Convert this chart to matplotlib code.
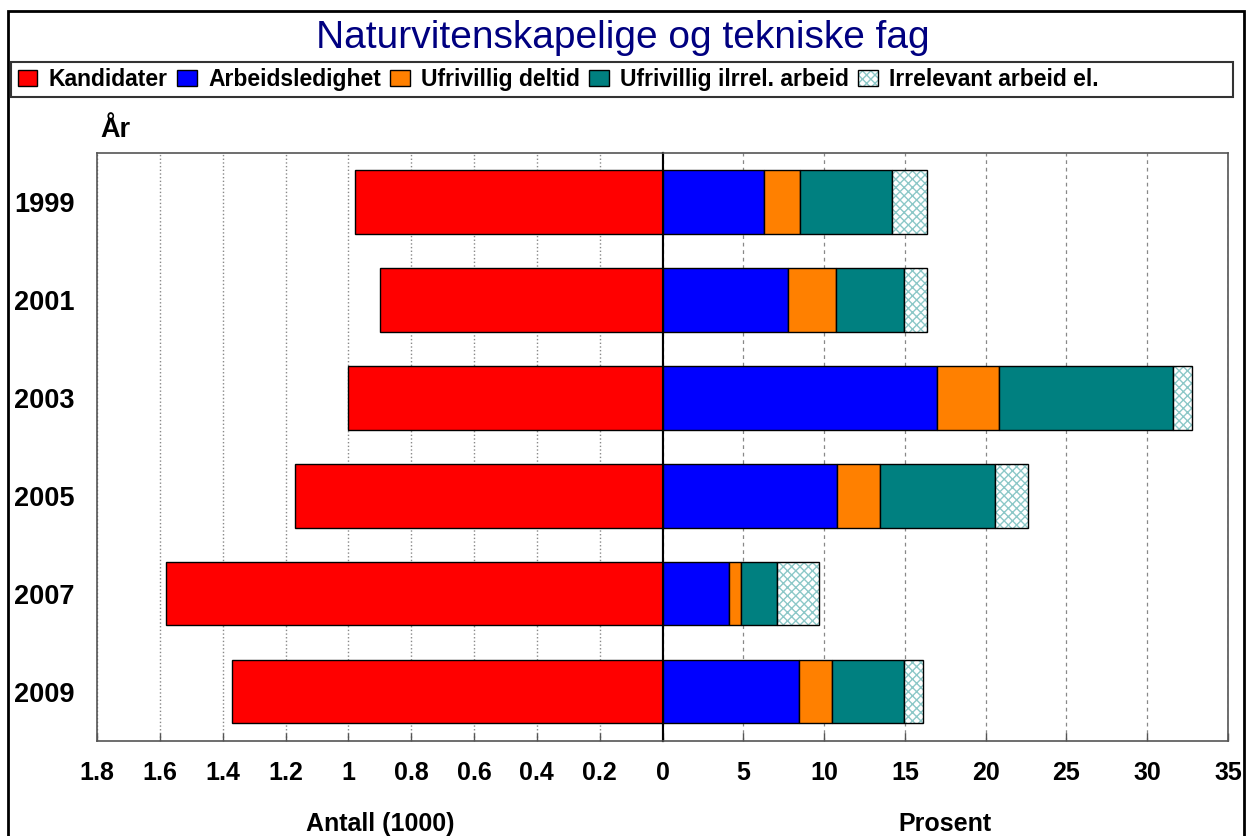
import matplotlib
matplotlib.use('Agg')
import matplotlib.pyplot as plt
from matplotlib.patches import Patch, Rectangle

plt.rcParams['font.family'] = ['Liberation Sans', 'DejaVu Sans']

# Data
years = ['1999', '2001', '2003', '2005', '2007', '2009']
kandidater = [0.98, 0.90, 1.00, 1.17, 1.58, 1.37]          # Antall (1000)
arbeidsledighet = [6.3, 7.75, 17.0, 10.8, 4.1, 8.45]        # Prosent
ufrivillig_deltid = [2.2, 3.0, 3.8, 2.65, 0.75, 2.05]
ufrivillig_irrel = [5.7, 4.2, 10.8, 7.1, 2.25, 4.45]
irrelevant_arbeid = [2.2, 1.4, 1.2, 2.05, 2.6, 1.2]

left_ticks = [0, 0.2, 0.4, 0.6, 0.8, 1.0, 1.2, 1.4, 1.6, 1.8]
left_ticklabels = ['0', '0.2', '0.4', '0.6', '0.8', '1', '1.2', '1.4', '1.6', '1.8']
right_ticks = [0, 5, 10, 15, 20, 25, 30, 35]
right_ticklabels = ['', '5', '10', '15', '20', '25', '30', '35']

W, H = 1246, 836
fig = plt.figure(figsize=(W / 100, H / 100), dpi=100)

def fx(px):
    return px / W

def fy(py):
    return 1 - py / H

ax_l = fig.add_axes([fx(97), fy(740.5), fx(662.5 - 97), (740.5 - 153) / H])
ax_r = fig.add_axes([fx(662.5), fy(740.5), fx(1228 - 662.5), (740.5 - 153) / H])

ypos = list(range(len(years)))
bh = 0.65
edge = dict(edgecolor='black', linewidth=1.0)

ax_l.barh(ypos, kandidater, height=bh, color='#ff0000', zorder=3, **edge)

left = [0] * len(years)
for vals, col in [(arbeidsledighet, '#0000ff'), (ufrivillig_deltid, '#ff8000'),
                  (ufrivillig_irrel, '#008080')]:
    ax_r.barh(ypos, vals, left=left, height=bh, color=col, zorder=3, **edge)
    left = [a + b for a, b in zip(left, vals)]
# hatched segment: pattern first, then black outline on top
ax_r.barh(ypos, irrelevant_arbeid, left=left, height=bh, facecolor='white',
          edgecolor='#8cc8c8', hatch='xxxx', linewidth=0, zorder=3)
ax_r.barh(ypos, irrelevant_arbeid, left=left, height=bh, fill=False, zorder=4, **edge)

ax_l.set_xlim(1.8, 0)
ax_r.set_xlim(0, 35)
for ax in (ax_l, ax_r):
    ax.set_ylim(len(years) - 0.5, -0.5)
    for s in ax.spines.values():
        s.set_color('#555555')
        s.set_linewidth(1.2)
    ax.tick_params(axis='x', direction='in', length=6, width=1, color='#555555',
                   labelsize=18, pad=15)
    ax.set_axisbelow(True)

ax_l.spines['right'].set_color('black')
ax_r.spines['left'].set_color('black')
ax_l.spines['right'].set_linewidth(1.5)
ax_r.spines['left'].set_linewidth(1.5)

ax_l.set_xticks(left_ticks)
ax_l.set_xticklabels(left_ticklabels, fontweight='bold')
ax_r.set_xticks(right_ticks)
ax_r.set_xticklabels(right_ticklabels, fontweight='bold')

ax_l.set_yticks(ypos)
ax_l.set_yticklabels(years, fontweight='bold', fontsize=19.5)
ax_l.tick_params(axis='y', length=0, pad=16)
ax_r.set_yticks([])

ax_l.grid(axis='x', color='#888888', linestyle=':', linewidth=1.0)
ax_r.grid(axis='x', color='#888888', linestyle=(0, (3, 3)), linewidth=0.9)

ax_l.set_xlabel('Antall (1000)', fontsize=18, fontweight='bold', labelpad=19)
ax_r.set_xlabel('Prosent', fontsize=18, fontweight='bold', labelpad=19)

fig.text(fx(100), fy(130), 'År', fontsize=19.5, fontweight='bold', va='center', ha='left')

fig.text(0.5, fy(38), 'Naturvitenskapelige og tekniske fag', fontsize=28,
         color='#000080', ha='center', va='center')

# outer frame and legend box
fig.patches.append(Rectangle((fx(8), -0.05), fx(1244 - 8), fy(11) + 0.05,
                             transform=fig.transFigure, fill=False,
                             edgecolor='black', linewidth=2.0))
fig.patches.append(Rectangle((fx(11), fy(97)), fx(1233 - 11), (97 - 62) / H,
                             transform=fig.transFigure, fill=False,
                             edgecolor='#333333', linewidth=1.5))

handles = [Patch(facecolor='#ff0000', edgecolor='black'),
           Patch(facecolor='#0000ff', edgecolor='black'),
           Patch(facecolor='#ff8000', edgecolor='black'),
           Patch(facecolor='#008080', edgecolor='black'),
           (Patch(facecolor='white', edgecolor='#8cc8c8', hatch='xxxx', linewidth=0),
            Patch(fill=False, edgecolor='black'))]
labels = ['Kandidater', 'Arbeidsledighet', 'Ufrivillig deltid',
          'Ufrivillig ilrrel. arbeid', 'Irrelevant arbeid el.']
fig.legend(handles, labels, loc='center left', bbox_to_anchor=(fx(18), fy(79.5)),
           ncol=5, frameon=False, prop={'size': 16.5, 'weight': 'bold'},
           handlelength=0.85, handleheight=0.65, handletextpad=0.5,
           columnspacing=0.4, borderpad=0, borderaxespad=0)

fig.savefig('out.png', dpi=100)
